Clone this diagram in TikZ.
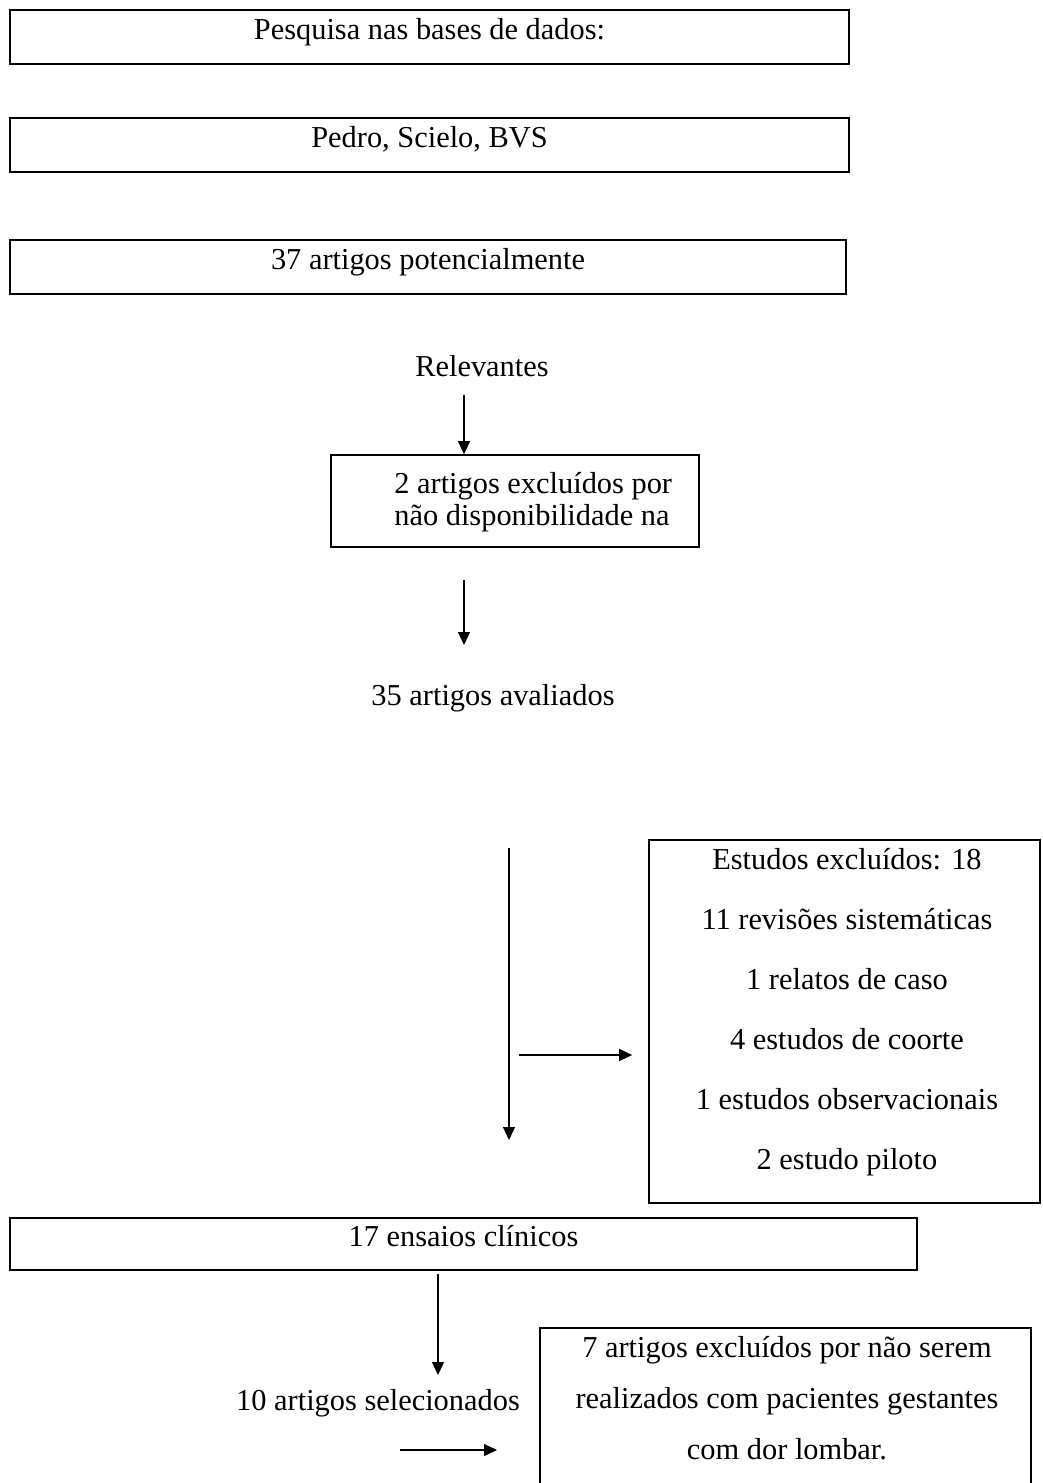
\documentclass[tikz,border=0pt]{standalone}
\usepackage{fontspec}
\setmainfont{Liberation Serif}
\usetikzlibrary{arrows.meta}

\tikzset{
  caixa/.style={draw, line width=1pt, inner sep=0pt, text height=0.3cm, text depth=0.2cm},
  texto/.style={font=\fontsize{17.3}{#1}\selectfont, inner sep=0pt},
  texto/.default=20pt,
  seta/.style={-{Triangle[length=0.26cm,width=0.24cm]}, line width=0.7pt},
}

\begin{document}
\begin{tikzpicture}[x=0.02cm, y=-0.02cm]
  \useasboundingbox (0,0) rectangle (1042,1483);
  \clip (0,0) rectangle (1042,1483);

  % Busca
  \node[caixa, texto, minimum width=16.78cm, minimum height=1.08cm] (pesquisa) at (429.5,37) {Pesquisa nas bases de dados:};
  \node[caixa, texto, minimum width=16.78cm, minimum height=1.08cm] (bases) at (429.5,145) {Pedro, Scielo, BVS};
  \node[caixa, texto, minimum width=16.72cm, minimum height=1.08cm] (potenc) at (428,267) {37 artigos potencialmente};
  \node[texto] (relev) at (482,366) {Relevantes};

  % Exclusao por disponibilidade
  \node[caixa, minimum width=7.36cm, minimum height=1.84cm] (exclu) at (515,501) {};
  \node[texto=18.2pt, align=left, anchor=west] (exclutxt) at (394,502) {2 artigos excluídos por\\não disponibilidade na};
  \node[texto] (aval) at (493,698) {35 artigos avaliados};

  % Estudos excluidos
  \node[caixa, minimum width=7.82cm, minimum height=7.26cm] (estudos) at (844.5,1021.5) {};
  \node[texto=34.1pt, align=center] (estudostxt) at (847,1012) {Estudos excluídos: 18\\11 revisões sistemáticas\\1 relatos de caso\\4 estudos de coorte\\1 estudos observacionais\\2 estudo piloto};

  % Ensaios e selecao
  \node[caixa, texto, minimum width=18.14cm, minimum height=1.04cm] (ensaios) at (463.5,1244) {17 ensaios clínicos};
  \node[texto] (selec) at (378,1403) {10 artigos selecionados};
  \node[caixa, anchor=north, minimum width=9.82cm, minimum height=4cm] (gestantes) at (785.5,1327) {};
  \node[texto=29pt, align=center] (gestantestxt) at (787,1398) {7 artigos excluídos por não serem\\realizados com pacientes gestantes\\com dor lombar.};

  % Setas
  \coordinate (s1) at (464,395);
  \coordinate (s2a) at (464,580);
  \coordinate (s2b) at (464,645);
  \coordinate (s3a) at (509,848);
  \coordinate (s3b) at (509,1140);
  \coordinate (s4a) at (519,1055);
  \coordinate (s5a) at (ensaios.south -| 438,0);
  \coordinate (s5b) at (438,1375);
  \coordinate (s6a) at (400,1450);
  \coordinate (s6b) at (497,1450);
  \draw[seta] (s1) -- (s1 |- exclu.north);
  \draw[seta] (s2a) -- (s2b);
  \draw[seta] (s3a) -- (s3b);
  \draw[seta] (s4a) -- ([xshift=-0.32cm]s4a -| estudos.west);
  \draw[seta] ([yshift=-0.06cm]s5a) -- (s5b);
  \draw[seta] (s6a) -- (s6b);
\end{tikzpicture}
\end{document}
